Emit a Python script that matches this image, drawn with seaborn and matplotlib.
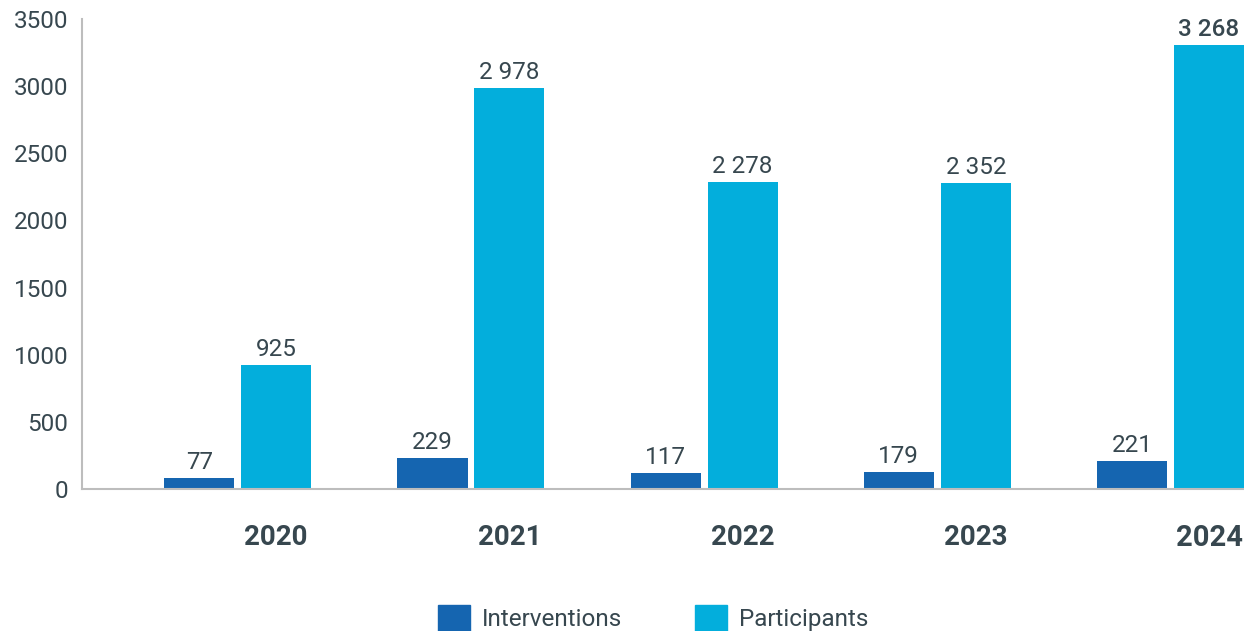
import pandas as pd
import matplotlib.pyplot as plt
import seaborn as sns

# ===================== data =====================
years = ["2020", "2021", "2022", "2023", "2024"]
series = ["Interventions", "Participants"]
# bar heights as drawn in the picture
interventions = [82, 231, 119, 127, 209]
participants = [925, 2985, 2284, 2276, 3306]
# value labels as printed above the bars
interventions_labels = ["77", "229", "117", "179", "221"]
participants_labels = ["925", "2 978", "2 278", "2 352", "3 268"]
y_ticks = [0, 500, 1000, 1500, 2000, 2500, 3000, 3500]

df = pd.DataFrame({
    "year": years * 2,
    "series": [series[0]] * len(years) + [series[1]] * len(years),
    "value": interventions + participants,
})

# ===================== style =====================
sns.set_theme(style="white")
plt.rcParams["font.family"] = ["Roboto", "DejaVu Sans"]
TXT = "#37474f"
GRID = "#bdbdbd"
colors = ["#1565b0", "#03aedc"]

fig = plt.figure(figsize=(12.44, 6.31), dpi=100)
ax = fig.add_axes([82 / 1244, 1 - 489 / 631, 1 - 82 / 1244, (489 - 19) / 631])

sns.barplot(data=df, x="year", y="value", hue="series", hue_order=series,
            palette=colors, width=0.66, gap=0.09, saturation=1, linewidth=0,
            ax=ax, legend=False)

# value labels
for cont, labs in zip(ax.containers, [interventions_labels, participants_labels]):
    ax.bar_label(cont, labels=labs, padding=3, fontsize=17.5, color=TXT)
# last label is a bit heavier in the reference
ax.texts[-1].set_fontweight("medium")

ax.set_ylim(0, 3500)
ax.set_xlim(-0.668, 4.315)
ax.set_yticks(y_ticks)
ax.set_yticklabels([str(t) for t in y_ticks], fontsize=17.5, color=TXT)

# year labels sit under the participant bars
ax.set_xticks([i + 0.165 for i in range(len(years))])
ax.set_xticklabels(years, fontsize=20, fontweight="bold", color=TXT)
ax.get_xticklabels()[-1].set_fontsize(21)
ax.tick_params(axis="x", length=0, pad=25.5)
ax.tick_params(axis="y", direction="in", length=14, width=1.5, color=GRID, pad=10)

ax.set_xlabel("")
ax.set_ylabel("")
for s in ["top", "right"]:
    ax.spines[s].set_visible(False)
for s in ["left", "bottom"]:
    ax.spines[s].set_color(GRID)
    ax.spines[s].set_linewidth(1.5)

# legend at the bottom
handles = [plt.Rectangle((0, 0), 1, 1, color=c) for c in colors]
leg = fig.legend(handles, series, loc="center", bbox_to_anchor=(0.525, 1 - 618 / 631),
                 ncol=2, frameon=False, fontsize=17.5, handlelength=1.3, handleheight=1.3,
                 handletextpad=0.5, columnspacing=3.0, borderaxespad=0)
for t in leg.get_texts():
    t.set_color(TXT)

fig.savefig("out.png", dpi=100)
